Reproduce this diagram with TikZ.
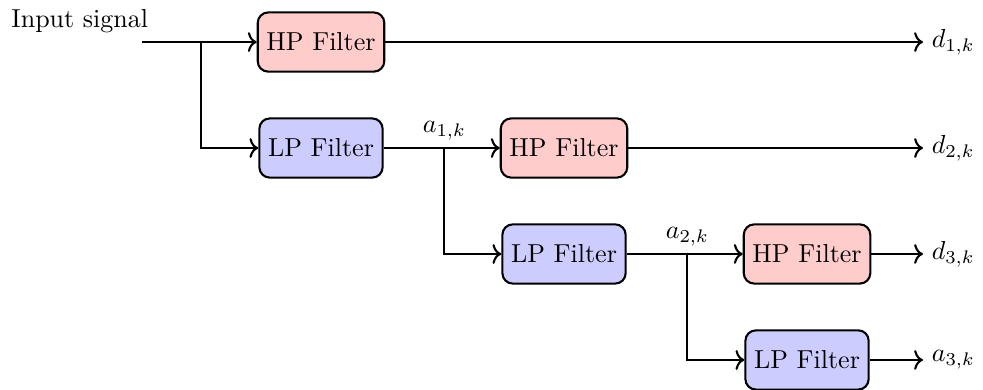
\documentclass[tikz,border=0pt]{standalone}
\usepackage{amsmath}
\usetikzlibrary{arrows.meta,positioning,calc}
\tikzset{
  filt/.style={
    draw, thick, rounded corners=4pt, minimum height=8mm, align=center
  },
  hpfilt/.style={filt, fill=red!20},
  lpfilt/.style={filt, fill=blue!20},
  sig/.style={-{To[length=3.4pt, width=7.6pt]}, thick},
  coef/.style={inner sep=3pt}
}
\begin{document}
\begin{tikzpicture}
  \useasboundingbox (-4.338,0.568) rectangle (8.946,-4.689);
  \def\dx{3.284}
  \def\dy{1.432}
  % filter bank
  \node[hpfilt] (hp1) at (0,0) {HP Filter};
  \node[lpfilt] (lp1) at (0,-\dy) {LP Filter};
  \node[hpfilt] (hp2) at (\dx,-\dy) {HP Filter};
  \node[lpfilt] (lp2) at (\dx,-2*\dy) {LP Filter};
  \node[hpfilt] (hp3) at (2*\dx,-2*\dy) {HP Filter};
  \node[lpfilt] (lp3) at (2*\dx,-3*\dy) {LP Filter};

  % input
  \coordinate (in) at (-2.42,0);
  \node[anchor=base] (inlbl) at (-3.26,0.203) {Input signal};
  \draw[sig] (in) -- (hp1);
  \draw[sig] (in) -- ++(0.8,0) |- (lp1);

  % approximation branches
  \draw[sig] (lp1) -- (hp2);
  \draw[sig] (lp1.east) -- ++(0.82,0) coordinate (b1) |- (lp2);
  \node[coef, above] (a1) at (b1) {$a_{1,k}$};
  \draw[sig] (lp2) -- (hp3);
  \draw[sig] (lp2.east) -- ++(0.82,0) coordinate (b2) |- (lp3);
  \node[coef, above] (a2) at (b2) {$a_{2,k}$};

  % outputs
  \coordinate (outx) at (8.135,0);
  \foreach \n/\lbl in {hp1/d_{1,k}, hp2/d_{2,k}, hp3/d_{3,k}, lp3/a_{3,k}}{
    \draw[sig] (\n) -- (\n -| outx) node[coef, right] (out\n) {$\lbl$};
  }
\end{tikzpicture}
\end{document}
